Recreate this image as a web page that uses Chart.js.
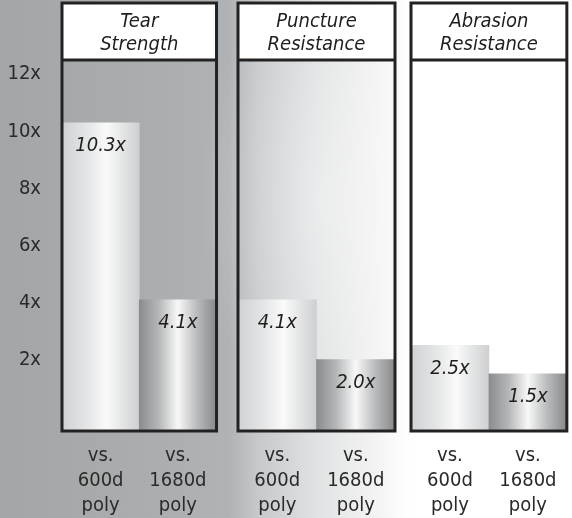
<!DOCTYPE html>
<html>
<head>
<meta charset="utf-8">
<script src="https://cdn.jsdelivr.net/npm/chart.js@4/dist/chart.umd.min.js"></script>
<style>
  html, body {
    margin: 0;
    padding: 0;
  }
  body {
    width: 572px;
    height: 518px;
    position: relative;
    overflow: hidden;
    background:
      radial-gradient(ellipse 120px 220px at 320px 200px, rgba(255,255,255,0.35), rgba(255,255,255,0) 100%),
      linear-gradient(to right, #a3a6a7 0%, #aaadae 25%, #b0b3b5 40%, #c6c9cb 45%, #dfe1e2 55%, #f2f2f2 65%, #ffffff 72%);
  }
  .panel {
    position: absolute;
    top: 0;
    height: 518px;
  }
</style>
</head>
<body>
<div class="panel" style="left:0;width:219px"><canvas id="tearChart"></canvas></div>
<div class="panel" style="left:236px;width:161px"><canvas id="punctureChart"></canvas></div>
<div class="panel" style="left:409px;width:160px"><canvas id="abrasionChart"></canvas></div>
<script>
const categories = [["vs.", "600d", "poly"], ["vs.", "1680d", "poly"]];
const panelTitles = [["Tear", "Strength"], ["Puncture", "Resistance"], ["Abrasion", "Resistance"]];
const tearValues = [10.3, 4.1];
const punctureValues = [4.1, 2.0];
const abrasionValues = [2.5, 1.5];
const tickValues = [2, 4, 6, 8, 10, 12];

const fontFamily = "'Liberation Sans Narrow', 'DejaVu Sans Condensed', 'Liberation Sans', sans-serif";
const textColor = "#1e1e1e";

// degradado metalico en vertical, como en el folleto
function barFill(context) {
  const chart = context.chart;
  const area = chart.chartArea;
  if (!area) {
    return "#d8d8d8";
  }
  const half = area.width / 2;
  const left = area.left + half * context.dataIndex;
  const grad = chart.ctx.createLinearGradient(left, 0, left + half, 0);
  if (context.dataIndex === 0) {
    grad.addColorStop(0, "#cfd1d3");
    grad.addColorStop(0.35, "#e6e7e8");
    grad.addColorStop(0.58, "#fafafa");
    grad.addColorStop(0.8, "#e2e3e4");
    grad.addColorStop(1, "#cdcfd1");
  } else {
    grad.addColorStop(0, "#8a8c8e");
    grad.addColorStop(0.25, "#b4b6b8");
    grad.addColorStop(0.5, "#f8f8f8");
    grad.addColorStop(0.75, "#b8babc");
    grad.addColorStop(1, "#86888a");
  }
  return grad;
}

const panelFrame = {
  id: "panelFrame",
  beforeDatasetsDraw(chart) {
    const { ctx, chartArea } = chart;
    const top = 3;
    ctx.save();
    ctx.fillStyle = "#ffffff";
    ctx.fillRect(chartArea.left, top, chartArea.width, chartArea.top - top);
    ctx.fillStyle = textColor;
    ctx.font = "italic 20px " + fontFamily;
    ctx.textAlign = "center";
    ctx.textBaseline = "middle";
    const lines = chart.options.plugins.panelFrame.title;
    const cx = chartArea.left + chartArea.width / 2;
    lines.forEach((line, i) => {
      ctx.fillText(line, cx, 22 + i * 23);
    });
    ctx.restore();
  },
  afterDatasetsDraw(chart) {
    const { ctx, chartArea } = chart;
    const meta = chart.getDatasetMeta(0);
    const values = chart.data.datasets[0].data;
    ctx.save();
    ctx.fillStyle = textColor;
    ctx.font = "italic 20px " + fontFamily;
    ctx.textAlign = "center";
    ctx.textBaseline = "middle";
    meta.data.forEach((bar, i) => {
      ctx.fillText(values[i].toFixed(1) + "x", bar.x, bar.y + 23);
    });
    ctx.strokeStyle = "#222222";
    ctx.lineWidth = 3;
    ctx.strokeRect(chartArea.left, 3, chartArea.width, chartArea.bottom - 3);
    ctx.beginPath();
    ctx.moveTo(chartArea.left, chartArea.top);
    ctx.lineTo(chartArea.right, chartArea.top);
    ctx.stroke();
    ctx.restore();
  }
};

function makeChart(canvasId, values, title, showTicks) {
  const canvas = document.getElementById(canvasId);
  return new Chart(canvas, {
    type: "bar",
    data: {
      labels: categories,
      datasets: [
        {
          data: values,
          base: -0.5,
          backgroundColor: barFill,
          borderWidth: 0,
          categoryPercentage: 1,
          barPercentage: 1
        }
      ]
    },
    options: {
      responsive: true,
      maintainAspectRatio: false,
      animation: false,
      layout: {
        padding: { top: 60, bottom: 0, left: showTicks ? 0 : 2, right: 2 }
      },
      plugins: {
        legend: { display: false },
        tooltip: { enabled: false },
        panelFrame: { title }
      },
      scales: {
        x: {
          grid: { display: false, drawTicks: false },
          border: { display: false },
          afterFit(scale) {
            scale.height = 87;
          },
          ticks: {
            color: "#2a2a2a",
            padding: 12,
            maxRotation: 0,
            autoSkip: false,
            font: { family: fontFamily, size: 20, lineHeight: 1.25 }
          }
        },
        y: {
          display: showTicks,
          min: -0.5,
          max: 12.5,
          afterBuildTicks(scale) {
            scale.ticks = tickValues.map((v) => ({ value: v }));
          },
          afterFit(scale) {
            scale.width = showTicks ? 62 : 0;
          },
          grid: { display: false, drawTicks: false },
          border: { display: false },
          ticks: {
            color: "#2a2a2a",
            padding: 21,
            font: { family: fontFamily, size: 20 },
            callback: (v) => v + "x"
          }
        }
      }
    },
    plugins: [panelFrame]
  });
}

makeChart("tearChart", tearValues, panelTitles[0], true);
makeChart("punctureChart", punctureValues, panelTitles[1], false);
makeChart("abrasionChart", abrasionValues, panelTitles[2], false);
</script>
</body>
</html>
